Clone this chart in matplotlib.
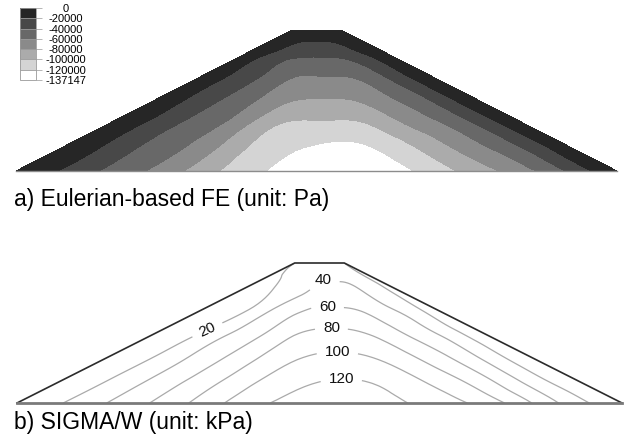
import numpy as np
import matplotlib.pyplot as plt
import matplotlib.tri as mtri

plt.rcParams['font.family'] = ['Liberation Sans', 'DejaVu Sans']

# dam cross-section (m)
x_toe_l, x_crest_l, x_crest_r, x_toe_r = 0.0, 28.0, 33.0, 61.0
height = 14.0

# mapped mesh: rows from base (0) to crest (1), columns from left slope (0) to right slope (1)
t_rows = np.linspace(0, 1, 7)
s_cols = np.linspace(0, 1, 11)

# a) Eulerian-based FE, vertical stress at the mesh nodes (kPa, compression positive)
fe_stress = np.array([
    [0, 29.1, 56.0, 87.4, 116.5, 135.0, 133.0, 109.4, 80.6, 46.3, 0],
    [0, 27.0, 51.1, 78.0, 109.8, 122.0, 121.5, 98.6, 70.5, 41.2, 0],
    [0, 24.6, 45.7, 67.8, 97.9, 103.5, 103.0, 82.8, 61.5, 34.2, 0],
    [0, 21.8, 39.7, 56.9, 76.6, 81.5, 81.0, 68.6, 51.0, 27.0, 0],
    [0, 18.1, 32.5, 46.1, 59.3, 61.0, 60.8, 54.9, 39.3, 19.7, 0],
    [0, 12.7, 23.3, 31.1, 33.6, 34.0, 33.6, 30.7, 22.9, 12.2, 0],
    [0, 0, 0, 0, 0, 0, 0, 0, 0, 0, 0],
])

# b) SIGMA/W, vertical stress at the same nodes (kPa)
sigma_stress = np.array([
    [0, 26.5, 54.5, 85.4, 116.2, 130.0, 127.0, 109.8, 82.4, 37.9, 0],
    [0, 22.6, 48.8, 76.1, 103.5, 118.6, 118.0, 99.3, 72.1, 34.7, 0],
    [0, 18.1, 42.2, 65.0, 89.3, 102.3, 101.5, 85.8, 61.7, 31.8, 0],
    [0, 14.1, 33.4, 53.3, 73.6, 84.0, 83.0, 70.9, 51.2, 29.2, 0],
    [0, 10.1, 20.2, 40.4, 54.8, 62.8, 62.0, 56.1, 42.3, 27.0, 0],
    [8, 14.3, 20.8, 28.0, 34.0, 43.7, 44.5, 43.0, 35.0, 25.0, 12],
    [20, 24.0, 26.0, 27.0, 28.0, 29.0, 29.5, 29.0, 28.0, 25.0, 20],
])

fe_levels = [-137147, -120000, -100000, -80000, -60000, -40000, -20000, 0]
fe_colors = ['#ffffff', '#d4d4d4', '#ababab', '#8a8a8a', '#686868', '#484848', '#262626']
sigma_levels = [20, 40, 60, 80, 100, 120]


def dam_mesh():
    xs, zs = [], []
    for t in t_rows:
        xl = x_toe_l + (x_crest_l - x_toe_l) * t
        xr = x_toe_r - (x_toe_r - x_crest_r) * t
        xs.append(xl + s_cols * (xr - xl))
        zs.append(np.full(len(s_cols), height * t))
    x = np.concatenate(xs)
    z = np.concatenate(zs)
    nc = len(s_cols)
    tris = []
    for i in range(len(t_rows) - 1):
        for j in range(nc - 1):
            a = i * nc + j
            c = a + nc
            tris += [[a, a + 1, c + 1], [a, c + 1, c]]
    return mtri.Triangulation(x, z, tris)


mesh = dam_mesh()
refiner = mtri.UniformTriRefiner(mesh)

fig = plt.figure(figsize=(6.24, 4.45), dpi=100)

# ---- a) Eulerian-based FE
ax1 = fig.add_axes([16 / 624, 1 - 171 / 445, 601 / 624, 141 / 445])
tri_a, val_a = refiner.refine_field(fe_stress.ravel(), subdiv=3)
pa = np.clip(-val_a * 1000, -137000, -1)
cf = ax1.tricontourf(tri_a, pa, levels=fe_levels, colors=fe_colors)
ax1.plot([x_toe_l, x_toe_r], [0, 0], color='#8c8c8c', lw=1, clip_on=False)
ax1.set_xlim(x_toe_l, x_toe_r)
ax1.set_ylim(0, height)
ax1.axis('off')

cax = fig.add_axes([20 / 624, 1 - 80 / 445, 16 / 624, 72 / 445])
cbar = fig.colorbar(cf, cax=cax, ticks=fe_levels, drawedges=True)
cbar.ax.set_yticklabels([str(v) for v in fe_levels])
cbar.ax.tick_params(length=4.3, width=0.5, color='#999999', pad=17, labelsize=8)
for lab in cbar.ax.get_yticklabels():
    lab.set_horizontalalignment('center')
cbar.outline.set_edgecolor('#999999')
cbar.outline.set_linewidth(0.6)
cbar.dividers.set_color('#999999')
cbar.dividers.set_linewidth(0.6)

fig.text(14 / 624, 1 - 206 / 445, 'a) Eulerian-based FE (unit: Pa)', fontsize=16.5, va='baseline')

# ---- b) SIGMA/W
ax2 = fig.add_axes([17 / 624, 1 - 403 / 445, 605 / 624, 140 / 445])
tri_b, val_b = refiner.refine_field(sigma_stress.ravel(), subdiv=3)
cs = ax2.tricontour(tri_b, val_b, levels=sigma_levels, colors='#aaaaaa', linewidths=0.9)
label_spots = [(19.2, 7.3), (30.9, 12.2), (31.3, 9.6), (31.7, 7.5), (32.3, 5.0), (32.7, 2.1)]
labels = ax2.clabel(cs, manual=label_spots, fmt='%d', fontsize=11, colors='#111111',
                    inline=True, inline_spacing=8)
# labels across the middle read horizontally, only the slope one follows its line
for txt in labels:
    if txt.get_text() != '20':
        txt.set_rotation(0)
ax2.plot([x_toe_l, x_crest_l, x_crest_r, x_toe_r], [0, height, height, 0],
         color='#2b2b2b', lw=1.2, clip_on=False)
ax2.plot([x_toe_l, x_toe_r], [0, 0], color='#7a7a7a', lw=2, clip_on=False)
ax2.set_xlim(x_toe_l, x_toe_r)
ax2.set_ylim(0, height)
ax2.axis('off')

fig.text(14 / 624, 1 - 429 / 445, 'b) SIGMA/W (unit: kPa)', fontsize=16.5, va='baseline')

fig.savefig('out.png', dpi=100)
